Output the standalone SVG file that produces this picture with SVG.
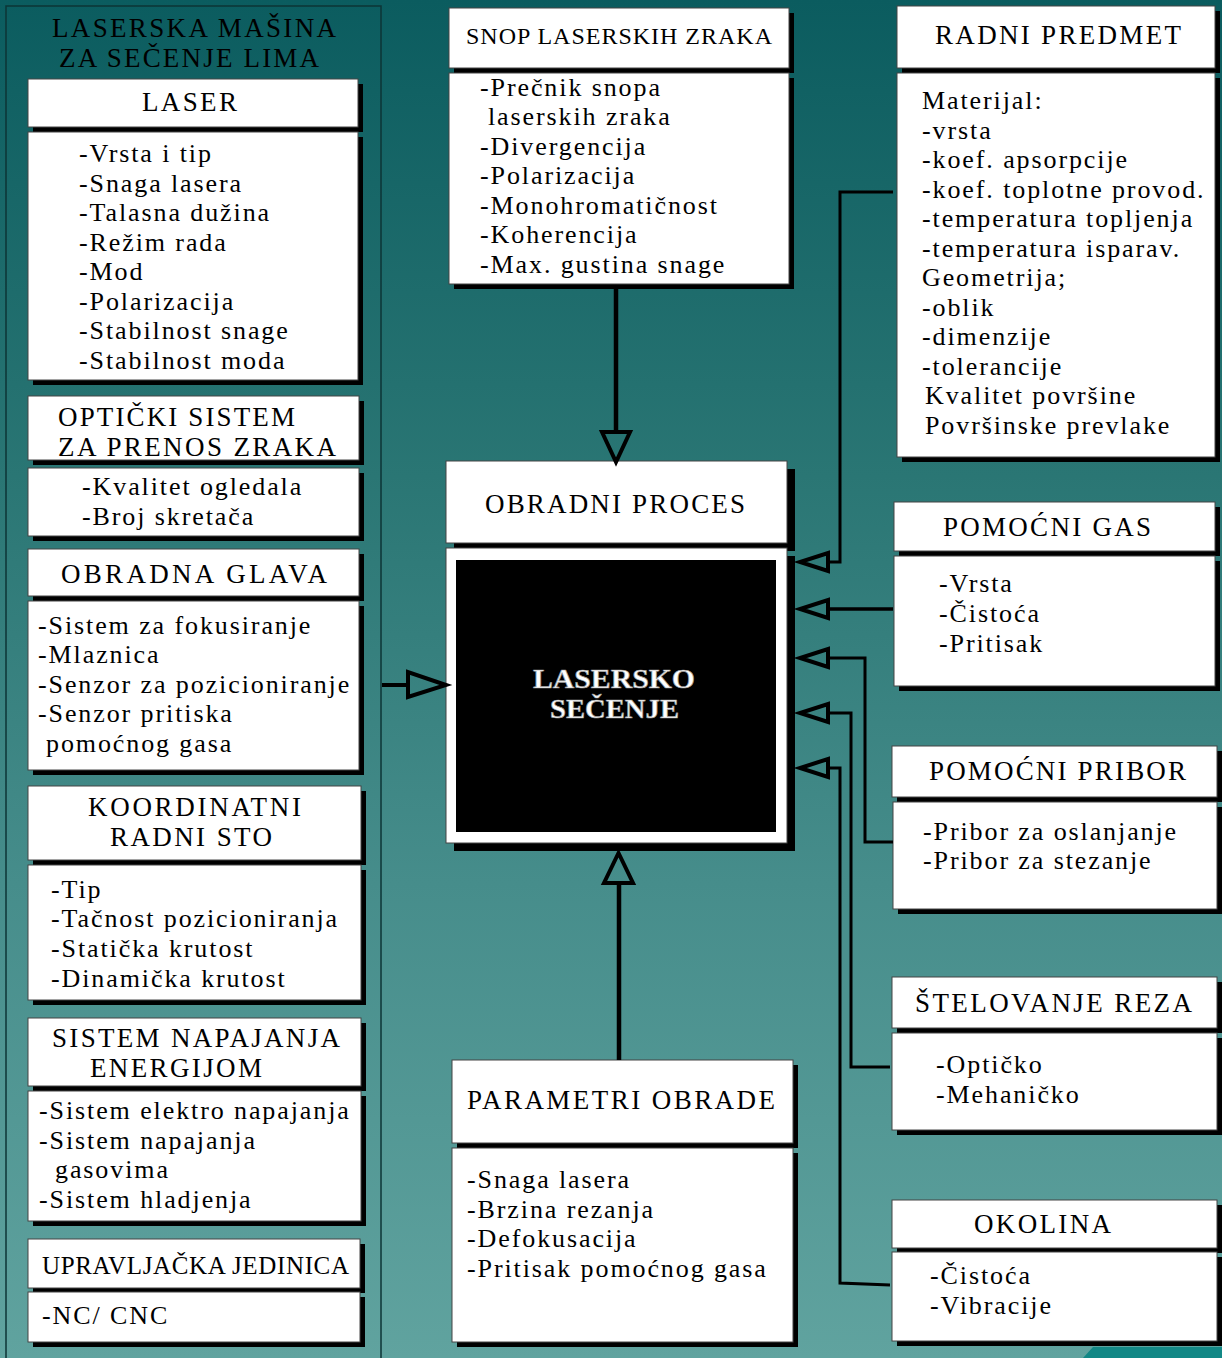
<svg xmlns="http://www.w3.org/2000/svg" width="1222" height="1358" viewBox="0 0 1222 1358">
<defs>
<linearGradient id="bg" x1="0" y1="0" x2="0" y2="1">
<stop offset="0" stop-color="#0b5c5f"/>
<stop offset="0.35" stop-color="#2a7674"/>
<stop offset="0.65" stop-color="#468d8b"/>
<stop offset="1" stop-color="#60a39f"/>
</linearGradient>
<style>
.t{font-family:"Liberation Serif","Times New Roman",serif;font-size:26px;letter-spacing:1.9px;fill:#000}
.h{font-family:"Liberation Serif","Times New Roman",serif;font-size:27px;letter-spacing:0;fill:#000}
.box{fill:#fff;stroke:#444;stroke-width:1}
.sh{fill:#000}
.ln{fill:none;stroke:#000;stroke-width:3.5}
.ln2{fill:none;stroke:#000;stroke-width:3}
.ah{fill:none;stroke:#000;stroke-width:4;stroke-linejoin:miter}
.big{font-family:"Liberation Serif","Times New Roman",serif;font-size:28px;font-weight:bold;fill:#fff;stroke:#9a9a9a;stroke-width:0.7}
</style>
</defs>
<rect x="0" y="0" width="1222" height="1358" fill="url(#bg)"/>
<polygon points="1083,1358 1093,1347 1222,1347 1222,1358" fill="#128886"/>

<g id="masina">
<rect x="6" y="6" width="375" height="1360" fill="none" stroke="#0d3436" stroke-width="1.5"/>
<text class="h" x="52" y="37" textLength="284" lengthAdjust="spacing">LASERSKA MAŠINA</text>
<text class="h" x="59" y="67" textLength="260" lengthAdjust="spacing">ZA SEČENJE LIMA</text>
</g>

<g id="laser">
<rect class="sh" x="33" y="84" width="330" height="48"/>
<rect class="box" x="28" y="79" width="330" height="48"/>
<text class="h" x="142" y="111" textLength="95" lengthAdjust="spacing">LASER</text>
<rect class="sh" x="33" y="137" width="330" height="248"/>
<rect class="box" x="28" y="132" width="330" height="248"/>
<text class="t" x="79" y="162">-Vrsta i tip</text>
<text class="t" x="79" y="191.5">-Snaga lasera</text>
<text class="t" x="79" y="221">-Talasna dužina</text>
<text class="t" x="79" y="250.5">-Režim rada</text>
<text class="t" x="79" y="280">-Mod</text>
<text class="t" x="79" y="309.5">-Polarizacija</text>
<text class="t" x="79" y="339">-Stabilnost snage</text>
<text class="t" x="79" y="368.5">-Stabilnost moda</text>
</g>

<g id="opticki">
<rect class="sh" x="33" y="401" width="331" height="64"/>
<rect class="box" x="28" y="396" width="331" height="64"/>
<text class="h" x="58" y="426" textLength="237" lengthAdjust="spacing">OPTIČKI SISTEM</text>
<text class="h" x="58" y="456" textLength="278" lengthAdjust="spacing">ZA PRENOS ZRAKA</text>
<rect class="sh" x="33" y="473" width="331" height="68"/>
<rect class="box" x="28" y="468" width="331" height="68"/>
<text class="t" x="82" y="495">-Kvalitet ogledala</text>
<text class="t" x="82" y="525">-Broj skretača</text>
</g>

<g id="glava">
<rect class="sh" x="33" y="554" width="331" height="47"/>
<rect class="box" x="28" y="549" width="331" height="47"/>
<text class="h" x="61" y="583" textLength="266" lengthAdjust="spacing">OBRADNA GLAVA</text>
<rect class="sh" x="33" y="606" width="331" height="169"/>
<rect class="box" x="28" y="601" width="331" height="169"/>
<text class="t" x="38" y="634">-Sistem za fokusiranje</text>
<text class="t" x="38" y="663">-Mlaznica</text>
<text class="t" x="38" y="693">-Senzor za pozicioniranje</text>
<text class="t" x="38" y="722">-Senzor pritiska</text>
<text class="t" x="46" y="752">pomoćnog gasa</text>
</g>

<g id="sto">
<rect class="sh" x="33" y="791" width="333" height="74"/>
<rect class="box" x="28" y="786" width="333" height="74"/>
<text class="h" x="88" y="816" textLength="213" lengthAdjust="spacing">KOORDINATNI</text>
<text class="h" x="110" y="846" textLength="162" lengthAdjust="spacing">RADNI STO</text>
<rect class="sh" x="33" y="870" width="333" height="135"/>
<rect class="box" x="28" y="865" width="333" height="135"/>
<text class="t" x="51" y="898">-Tip</text>
<text class="t" x="51" y="927">-Tačnost pozicioniranja</text>
<text class="t" x="51" y="957">-Statička krutost</text>
<text class="t" x="51" y="987">-Dinamička krutost</text>
</g>

<g id="napajanje">
<rect class="sh" x="33" y="1023" width="333" height="68"/>
<rect class="box" x="28" y="1018" width="333" height="68"/>
<text class="h" x="52" y="1047" textLength="288" lengthAdjust="spacing">SISTEM NAPAJANJA</text>
<text class="h" x="90" y="1077" textLength="172" lengthAdjust="spacing">ENERGIJOM</text>
<rect class="sh" x="33" y="1096" width="333" height="130"/>
<rect class="box" x="28" y="1091" width="333" height="130"/>
<text class="t" x="39" y="1119">-Sistem elektro napajanja</text>
<text class="t" x="39" y="1149">-Sistem napajanja</text>
<text class="t" x="55" y="1178">gasovima</text>
<text class="t" x="39" y="1208">-Sistem hladjenja</text>
</g>

<g id="upravljacka">
<rect class="sh" x="33" y="1244" width="332" height="49"/>
<rect class="box" x="28" y="1239" width="332" height="49"/>
<text class="h" x="42" y="1274" style="font-size:25px" textLength="307" lengthAdjust="spacing">UPRAVLJAČKA JEDINICA</text>
<rect class="sh" x="33" y="1297" width="332" height="50"/>
<rect class="box" x="28" y="1292" width="332" height="50"/>
<text class="t" x="42" y="1324">-NC/ CNC</text>
</g>

<g id="snop">
<rect class="sh" x="454" y="13" width="340" height="60"/>
<rect class="box" x="449" y="8" width="340" height="60"/>
<text class="h" x="466" y="44" style="font-size:24px" textLength="306" lengthAdjust="spacing">SNOP LASERSKIH ZRAKA</text>
<rect class="sh" x="454" y="78" width="340" height="211"/>
<rect class="box" x="449" y="73" width="340" height="211"/>
<text class="t" x="480" y="96">-Prečnik snopa</text>
<text class="t" x="488" y="125">laserskih zraka</text>
<text class="t" x="480" y="155">-Divergencija</text>
<text class="t" x="480" y="184">-Polarizacija</text>
<text class="t" x="480" y="213.5">-Monohromatičnost</text>
<text class="t" x="480" y="243">-Koherencija</text>
<text class="t" x="480" y="272.5">-Max. gustina snage</text>
</g>

<g id="obradni">
<rect class="sh" x="454" y="469" width="341" height="82"/>
<rect class="box" x="446" y="461" width="341" height="82"/>
<text class="h" x="485" y="513" textLength="260" lengthAdjust="spacing">OBRADNI PROCES</text>
<rect class="sh" x="454" y="556" width="341" height="295"/>
<rect class="box" x="446" y="548" width="341" height="295"/>
<rect x="456" y="560" width="320" height="272" fill="#000"/>
<text class="big" x="533" y="688" textLength="162" lengthAdjust="spacingAndGlyphs">LASERSKO</text>
<text class="big" x="550" y="718" textLength="129" lengthAdjust="spacingAndGlyphs">SEČENJE</text>
</g>

<g id="parametri">
<rect class="sh" x="457" y="1065" width="341" height="83"/>
<rect class="box" x="452" y="1060" width="341" height="83"/>
<text class="h" x="467" y="1109" textLength="308" lengthAdjust="spacing">PARAMETRI OBRADE</text>
<rect class="sh" x="457" y="1153" width="341" height="194"/>
<rect class="box" x="452" y="1148" width="341" height="194"/>
<text class="t" x="467" y="1188">-Snaga lasera</text>
<text class="t" x="467" y="1218">-Brzina rezanja</text>
<text class="t" x="467" y="1247">-Defokusacija</text>
<text class="t" x="467" y="1277">-Pritisak pomoćnog gasa</text>
</g>

<g id="predmet">
<rect class="sh" x="902" y="11" width="318" height="62"/>
<rect class="box" x="897" y="6" width="318" height="62"/>
<text class="h" x="935" y="44" textLength="246" lengthAdjust="spacing">RADNI PREDMET</text>
<rect class="sh" x="902" y="78" width="318" height="384"/>
<rect class="box" x="897" y="73" width="318" height="384"/>
<text class="t" x="922" y="109">Materijal:</text>
<text class="t" x="922" y="138.5">-vrsta</text>
<text class="t" x="922" y="168">-koef. apsorpcije</text>
<text class="t" x="922" y="197.5">-koef. toplotne provod.</text>
<text class="t" x="922" y="227">-temperatura topljenja</text>
<text class="t" x="922" y="256.5">-temperatura isparav.</text>
<text class="t" x="922" y="286">Geometrija;</text>
<text class="t" x="922" y="315.5">-oblik</text>
<text class="t" x="922" y="345">-dimenzije</text>
<text class="t" x="922" y="374.5">-tolerancije</text>
<text class="t" x="925" y="404">Kvalitet površine</text>
<text class="t" x="925" y="433.5">Površinske prevlake</text>
</g>

<g id="gas">
<rect class="sh" x="899" y="507" width="321" height="49"/>
<rect class="box" x="894" y="502" width="321" height="49"/>
<text class="h" x="943" y="536" textLength="208" lengthAdjust="spacing">POMOĆNI GAS</text>
<rect class="sh" x="899" y="561" width="321" height="130"/>
<rect class="box" x="894" y="556" width="321" height="130"/>
<text class="t" x="939" y="592">-Vrsta</text>
<text class="t" x="939" y="622">-Čistoća</text>
<text class="t" x="939" y="652">-Pritisak</text>
</g>

<g id="pribor">
<rect class="sh" x="897" y="751" width="325" height="51"/>
<rect class="box" x="892" y="746" width="325" height="51"/>
<text class="h" x="929" y="780" textLength="257" lengthAdjust="spacing">POMOĆNI PRIBOR</text>
<rect class="sh" x="898" y="807" width="324" height="107"/>
<rect class="box" x="893" y="802" width="324" height="107"/>
<text class="t" x="923" y="840">-Pribor za oslanjanje</text>
<text class="t" x="923" y="869">-Pribor za stezanje</text>
</g>

<g id="stelovanje">
<rect class="sh" x="897" y="982" width="325" height="51"/>
<rect class="box" x="892" y="977" width="325" height="51"/>
<text class="h" x="915" y="1012" textLength="277" lengthAdjust="spacing">ŠTELOVANJE REZA</text>
<rect class="sh" x="897" y="1038" width="325" height="97"/>
<rect class="box" x="892" y="1033" width="325" height="97"/>
<text class="t" x="936" y="1073">-Optičko</text>
<text class="t" x="936" y="1103">-Mehaničko</text>
</g>

<g id="okolina">
<rect class="sh" x="897" y="1205" width="325" height="48"/>
<rect class="box" x="892" y="1200" width="325" height="48"/>
<text class="h" x="974" y="1233" textLength="137" lengthAdjust="spacing">OKOLINA</text>
<rect class="sh" x="897" y="1257" width="325" height="89"/>
<rect class="box" x="892" y="1252" width="325" height="89"/>
<text class="t" x="930" y="1284">-Čistoća</text>
<text class="t" x="930" y="1314">-Vibracije</text>
</g>

<g id="connectors">
<path class="ln" d="M616,289 V432" style="stroke-width:4.5"/>
<polygon class="ah" points="602,432 630,432 616,462"/>
<path class="ln" d="M619,1060 V883" style="stroke-width:4.5"/>
<polygon class="ah" points="604,883 633,883 618.5,853"/>
<path class="ln" d="M382,685 H408" style="stroke-width:4"/>
<polygon class="ah" points="408,672 408,697 446,685"/>
<path class="ln2" d="M893,192 H840 V562 H828"/>
<polygon class="ah" points="828,553 828,571 800,562"/>
<path class="ln2" d="M893,609 H828" style="stroke-width:3.5"/>
<polygon class="ah" points="828,600 828,618 800,609"/>
<path class="ln2" d="M893,842 H865 V658 H828"/>
<polygon class="ah" points="828,649 828,667 800,658"/>
<path class="ln2" d="M890,1067 H851 V713 H828"/>
<polygon class="ah" points="828,704 828,722 800,713"/>
<path class="ln2" d="M890,1285 L840,1283 V768 H828"/>
<polygon class="ah" points="828,759 828,777 800,768"/>
</g>
</svg>
